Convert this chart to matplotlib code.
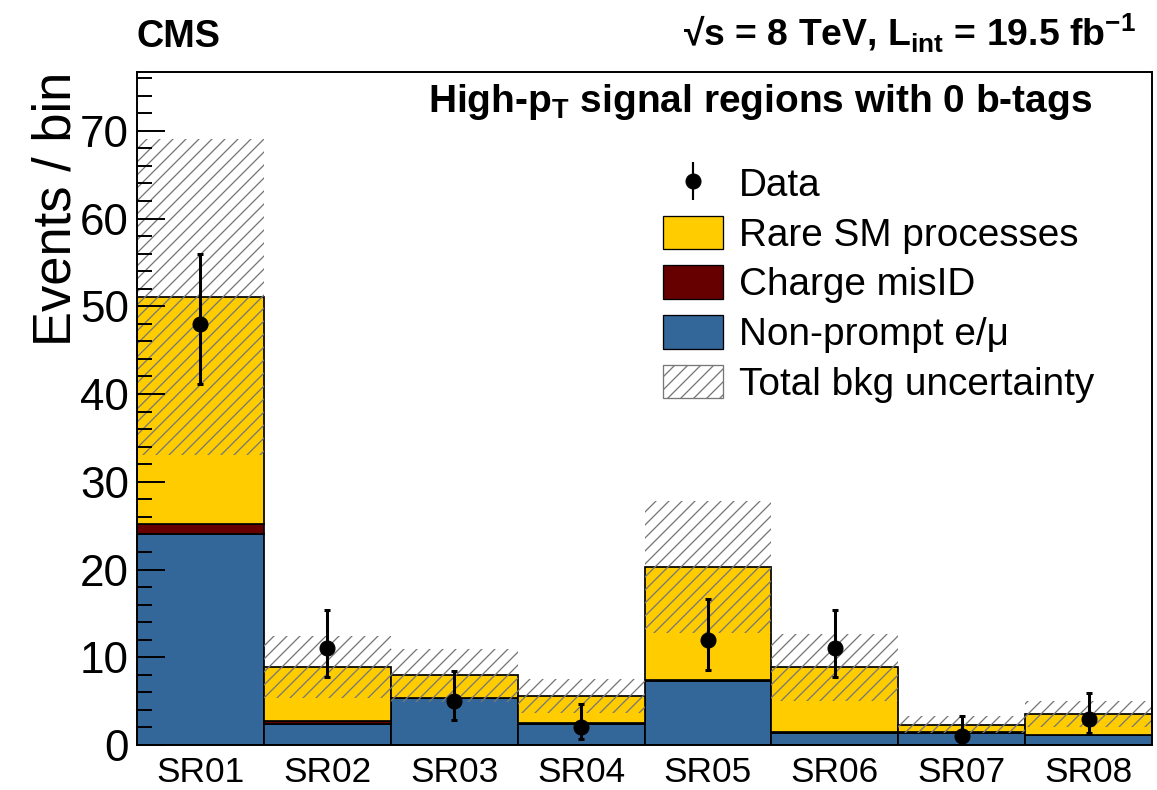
import numpy as np
import matplotlib
matplotlib.use("Agg")
import matplotlib.pyplot as plt
from matplotlib.patches import Patch
from matplotlib.ticker import MultipleLocator

plt.rcParams['font.family'] = ['Liberation Sans', 'DejaVu Sans']
plt.rcParams['mathtext.fontset'] = 'custom'
plt.rcParams['mathtext.rm'] = 'Liberation Sans'
plt.rcParams['mathtext.bf'] = 'Liberation Sans:bold'
plt.rcParams['hatch.linewidth'] = 1.2

# signal regions and background estimates
regions = ['SR01', 'SR02', 'SR03', 'SR04', 'SR05', 'SR06', 'SR07', 'SR08']
nonprompt = [24.1, 2.4, 5.3, 2.45, 7.3, 1.35, 1.4, 1.1]
chmisid = [1.1, 0.3, 0.05, 0.05, 0.15, 0.1, 0.05, 0.05]
rare = [25.9, 6.2, 2.6, 3.05, 12.85, 7.4, 0.85, 2.4]
bkg_unc = [18.0, 3.5, 3.0, 1.95, 7.5, 3.85, 0.97, 1.5]

# observed events with asymmetric poisson errors
data = [48, 11, 5, 2, 12, 11, 1, 3]
data_up = [7.97, 4.42, 3.38, 2.64, 4.6, 4.42, 2.3, 2.92]
data_dn = [6.9, 3.3, 2.16, 1.29, 3.44, 3.3, 0.83, 1.63]

col_np = '#336699'
col_cm = '#660000'
col_rare = '#ffcc00'

DPI = 78
fig = plt.figure(figsize=(1157 / DPI, 790 / DPI), dpi=DPI)
ax = fig.add_axes([137 / 1157, 1 - 745 / 790, (1152 - 137) / 1157, (745 - 72) / 790])

x = np.arange(len(regions))
np_arr = np.array(nonprompt)
cm_arr = np.array(chmisid)
rare_arr = np.array(rare)
total = np_arr + cm_arr + rare_arr
unc = np.array(bkg_unc)

ax.bar(x, np_arr, width=1, color=col_np, edgecolor='black', linewidth=1.6)
ax.bar(x, cm_arr, bottom=np_arr, width=1, color=col_cm, edgecolor='black', linewidth=1.6)
ax.bar(x, rare_arr, bottom=np_arr + cm_arr, width=1, color=col_rare, edgecolor='black', linewidth=1.6)
ax.bar(x, 2 * unc, bottom=total - unc, width=1, fill=False, hatch='//',
       edgecolor='#777777', linewidth=0)

ax.errorbar(x, data, yerr=[data_dn, data_up], fmt='o', color='black', ms=13.8,
            elinewidth=2.8, capsize=2.4, capthick=2.8, zorder=5)

ax.set_xlim(-0.5, 7.5)
ax.set_ylim(0, 76.7)
ax.set_xticks(x)
ax.set_xticklabels(regions)
ax.yaxis.set_major_locator(MultipleLocator(10))
ax.yaxis.set_minor_locator(MultipleLocator(2))
ax.tick_params(axis='y', which='major', direction='in', length=25.8, width=1.8,
               labelsize=40.6, pad=7.4)
ax.tick_params(axis='y', which='minor', direction='in', length=13.8, width=1.8)
ax.tick_params(axis='x', length=0, labelsize=32.5, pad=10)
for s in ax.spines.values():
    s.set_linewidth(1.8)

ax.set_ylabel('Events / bin', fontsize=48.5, loc='top')
ax.yaxis.set_label_coords(-0.055, 1.0)

fig.text(137 / 1157, 1 - 47 / 790, 'CMS', fontsize=35, fontweight='bold',
         ha='left', va='baseline')
fig.text(1136 / 1157, 1 - 47 / 790,
         r'√s = 8 TeV, L$_{\mathbf{int}}$ = 19.5 fb$^{\mathbf{-1}}$',
         fontsize=34.5, fontweight='bold', ha='right', va='baseline')
ax.text(1092 / 1157, 1 - 112 / 790, r'High-p$_{\mathbf{T}}$ signal regions with 0 b-tags',
        transform=fig.transFigure, fontsize=35.9, fontweight='bold', ha='right', va='baseline')

# legend
h_data = ax.errorbar([np.nan], [np.nan], yerr=[1], fmt='o', color='black', ms=13.8,
                     elinewidth=2.0, capsize=0)
handles = [
    h_data,
    Patch(facecolor=col_rare, edgecolor='black', linewidth=1.2),
    Patch(facecolor=col_cm, edgecolor='black', linewidth=1.2),
    Patch(facecolor=col_np, edgecolor='black', linewidth=1.2),
    Patch(facecolor='white', edgecolor='#777777', hatch='//', linewidth=1.2),
]
labels = ['Data', 'Rare SM processes', 'Charge misID', 'Non-prompt e/μ',
          'Total bkg uncertainty']
ax.legend(handles, labels, loc='upper left', bbox_to_anchor=(663 / 1157, 1 - 166 / 790),
          bbox_transform=fig.transFigure, frameon=False, fontsize=35.8, borderpad=0,
          borderaxespad=0, handlelength=1.55, handleheight=0.95, handletextpad=0.4,
          labelspacing=0.3)

fig.savefig('out.png', dpi=DPI)
